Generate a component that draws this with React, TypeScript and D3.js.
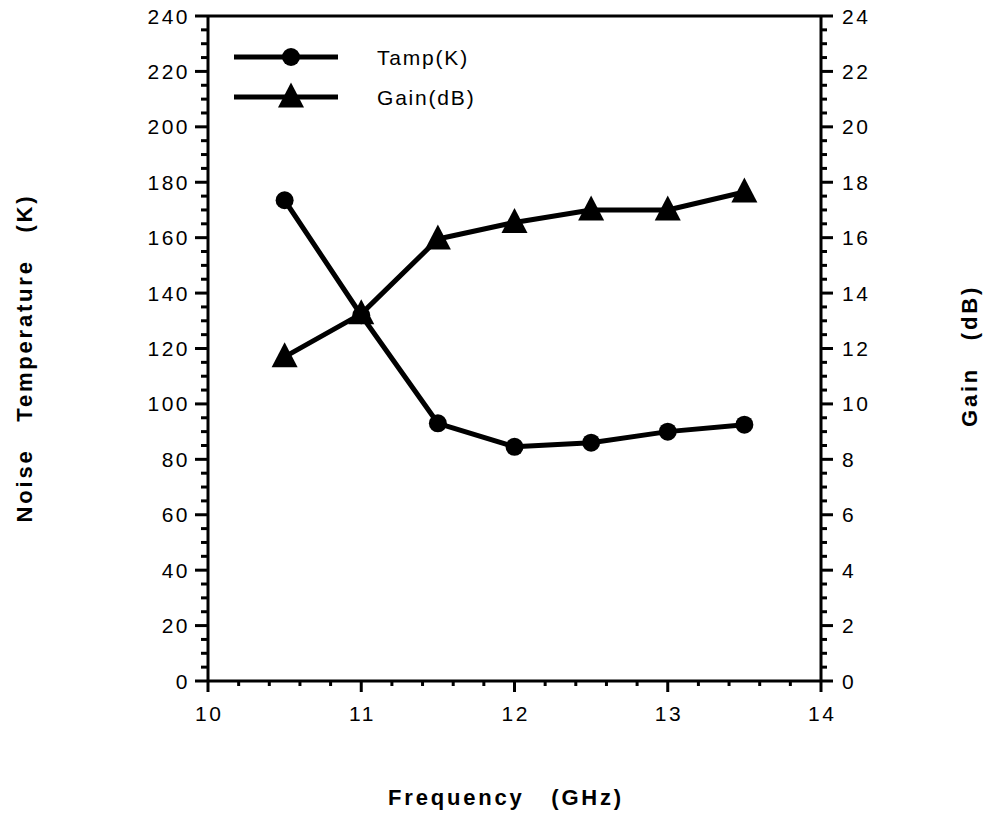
import React from "react";
import * as d3 from "d3";

const frequency = [10.5, 11, 11.5, 12, 12.5, 13, 13.5];
const tampK = [173.5, 132, 93, 84.5, 86, 90, 92.5];
const gainDB = [11.7, 13.25, 15.95, 16.55, 17.0, 17.0, 17.65];
const xTicks = [10, 11, 12, 13, 14];
const yLeftTicks = [0, 20, 40, 60, 80, 100, 120, 140, 160, 180, 200, 220, 240];
const yRightTicks = [0, 2, 4, 6, 8, 10, 12, 14, 16, 18, 20, 22, 24];
const seriesNames = ["Tamp(K)", "Gain(dB)"];

const W = 984;
const H = 818;
const L = 208, R = 821, T = 16, B = 681;
const FONT = "'Liberation Sans', Arial, Helvetica, sans-serif";

export default function App() {
  const x = d3.scaleLinear().domain([10, 14]).range([L, R]);
  const yL = d3.scaleLinear().domain([0, 240]).range([B, T]);
  const yR = d3.scaleLinear().domain([0, 24]).range([B, T]);

  const xMinor = d3.range(10, 14.0001, 0.2).map((v) => +v.toFixed(2));
  const yLMinor = d3.range(0, 240.0001, 5);
  const yRMinor = d3.range(0, 24.0001, 0.5);

  const lineT = d3.line<number>().x((_, i) => x(frequency[i])).y((d) => yL(d));
  const lineG = d3.line<number>().x((_, i) => x(frequency[i])).y((d) => yR(d));

  const tri = (cx: number, cy: number, s = 1) =>
    `M${cx},${cy - 14.5 * s} L${cx + 13 * s},${cy + 10.5 * s} L${cx - 13 * s},${cy + 10.5 * s} Z`;

  const stroke = "#000";
  const tickFont = { fontFamily: FONT, fontSize: 21, letterSpacing: 2.5 } as const;
  const titleFont = { fontFamily: FONT, fontSize: 22, fontWeight: 700, letterSpacing: 2.8 } as const;

  return (
    <svg width={W} height={H} viewBox={`0 0 ${W} ${H}`} style={{ position: "absolute", left: 0, top: 0, background: "#fff" }}>
      <rect x={0} y={0} width={W} height={H} fill="#fff" />
      {/* frame */}
      <line x1={L} x2={R} y1={T} y2={T} stroke={stroke} strokeWidth={3} />
      <line x1={L} x2={R} y1={B} y2={B} stroke={stroke} strokeWidth={3} />
      <line x1={L} x2={L} y1={T} y2={B} stroke={stroke} strokeWidth={3} />
      <line x1={R} x2={R} y1={T} y2={B} stroke={stroke} strokeWidth={3} />

      {/* bottom ticks */}
      {xMinor.map((v) => {
        const major = Math.abs(v - Math.round(v)) < 1e-6;
        return <line key={"xm" + v} x1={x(v)} x2={x(v)} y1={B} y2={B + (major ? 11 : 5)} stroke={stroke} strokeWidth={3} />;
      })}
      {xTicks.map((v) => (
        <text key={"xt" + v} x={x(v) + 1.25} y={721} textAnchor="middle" {...tickFont}>{v}</text>
      ))}

      {/* left ticks */}
      {yLMinor.map((v) => {
        const major = v % 20 === 0;
        return <line key={"ylm" + v} x1={L - (major ? 13 : 7)} x2={L} y1={yL(v)} y2={yL(v)} stroke={stroke} strokeWidth={3} />;
      })}
      {yLeftTicks.map((v) => (
        <text key={"ylt" + v} x={190} y={yL(v)} dy="0.36em" textAnchor="end" {...tickFont}>{v}</text>
      ))}

      {/* right ticks */}
      {yRMinor.map((v) => {
        const major = Math.abs(v % 2) < 1e-6;
        return <line key={"yrm" + v} x1={R} x2={R + (major ? 12 : 6)} y1={yR(v)} y2={yR(v)} stroke={stroke} strokeWidth={3} />;
      })}
      {yRightTicks.map((v) => (
        <text key={"yrt" + v} x={842} y={yR(v)} dy="0.36em" textAnchor="start" {...tickFont}>{v}</text>
      ))}

      {/* series */}
      <path d={lineT(tampK) || ""} fill="none" stroke={stroke} strokeWidth={5} strokeLinejoin="round" />
      <path d={lineG(gainDB) || ""} fill="none" stroke={stroke} strokeWidth={5} strokeLinejoin="round" />
      {tampK.map((v, i) => (
        <circle key={"c" + i} cx={x(frequency[i])} cy={yL(v)} r={9} fill={stroke} />
      ))}
      {gainDB.map((v, i) => (
        <path key={"t" + i} d={tri(x(frequency[i]), yR(v))} fill={stroke} />
      ))}

      {/* legend */}
      <line x1={234} x2={338} y1={57} y2={57} stroke={stroke} strokeWidth={5} />
      <circle cx={291} cy={57} r={9} fill={stroke} />
      <text x={377} y={57} dy="0.36em" {...tickFont} letterSpacing={1.8}>{seriesNames[0]}</text>
      <line x1={234} x2={338} y1={97} y2={97} stroke={stroke} strokeWidth={5} />
      <path d={tri(291, 97)} fill={stroke} />
      <text x={377} y={97} dy="0.36em" {...tickFont} letterSpacing={1.8}>{seriesNames[1]}</text>

      {/* axis titles */}
      <text x={506} y={797} dy="0.36em" textAnchor="middle" {...titleFont} style={{ whiteSpace: "pre" }}>{"Frequency   (GHz)"}</text>
      <text transform="translate(24,358) rotate(-90)" dy="0.36em" textAnchor="middle" {...titleFont} style={{ whiteSpace: "pre" }}>{"Noise   Temperature   (K)"}</text>
      <text transform="translate(969,356) rotate(-90)" dy="0.36em" textAnchor="middle" {...titleFont} style={{ whiteSpace: "pre" }}>{"Gain   (dB)"}</text>
    </svg>
  );
}
